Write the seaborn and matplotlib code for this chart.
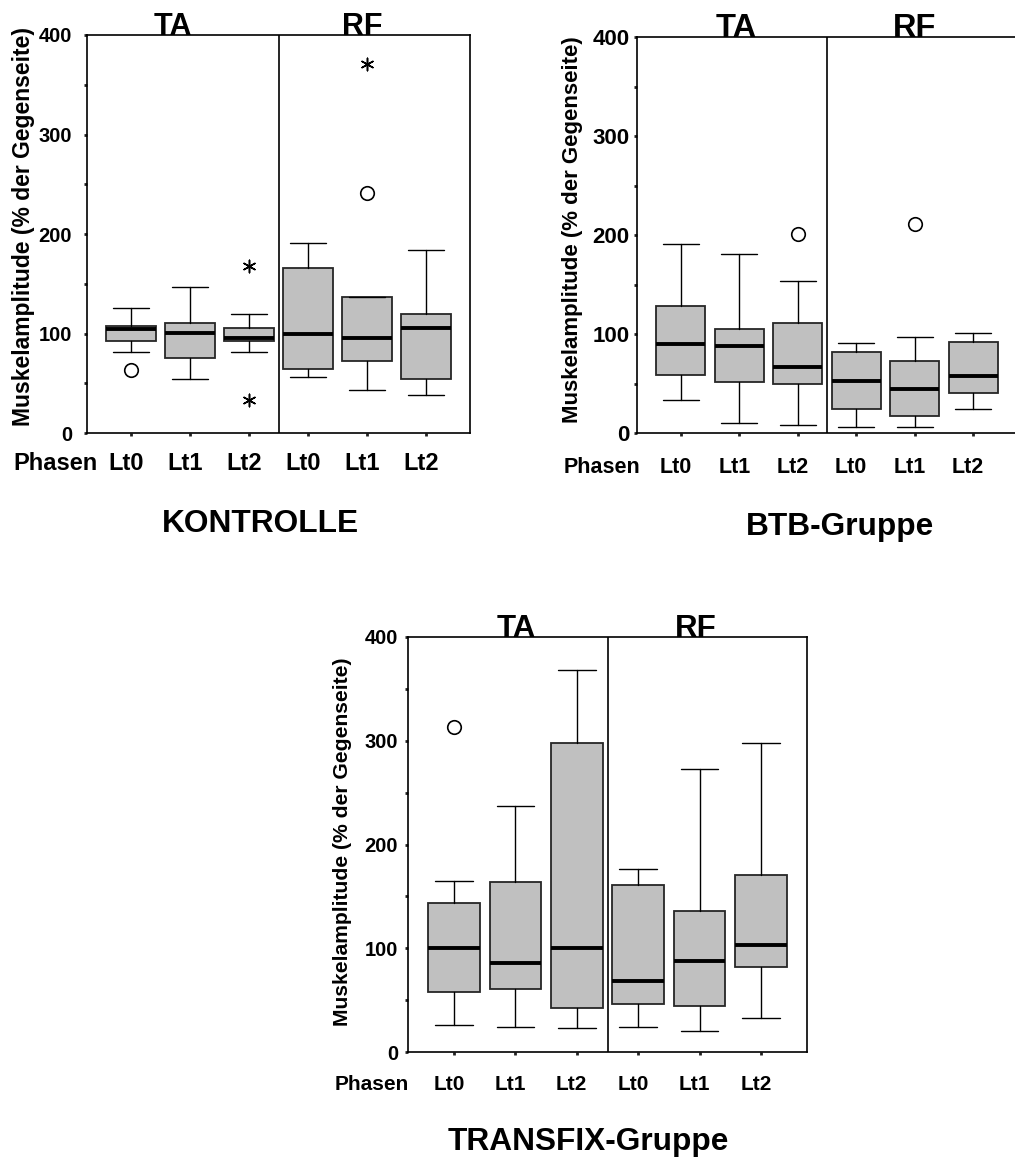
import matplotlib
matplotlib.use("Agg")
import matplotlib.pyplot as plt
import matplotlib.transforms as mtransforms
import seaborn as sns
import pandas as pd

# ---------------- data ----------------
phases = ["Lt0", "Lt1", "Lt2", "Lt0", "Lt1", "Lt2"]
muscles = ["TA", "RF"]
group_names = ["KONTROLLE", "BTB-Gruppe", "TRANSFIX-Gruppe"]
y_label = "Muskelamplitude (% der Gegenseite)"
x_label = "Phasen"
y_ticks = [0, 100, 200, 300, 400]
y_minor = [50, 150, 250, 350]

kontrolle_whislo = [81, 54, 81, 56, 43, 38]
kontrolle_q1 = [92, 75, 92, 64, 72, 54]
kontrolle_med = [105, 101, 95, 100, 95, 106]
kontrolle_q3 = [108, 111, 106, 166, 137, 120]
kontrolle_whishi = [126, 147, 120, 191, 137, 184]
kontrolle_out_pos = [0, 4]
kontrolle_out_val = [63, 241]
kontrolle_ext_pos = [2, 2, 4]
kontrolle_ext_val = [168, 33, 371]

btb_whislo = [33, 10, 8, 6, 6, 24]
btb_q1 = [59, 52, 50, 24, 17, 40]
btb_med = [90, 88, 67, 53, 44, 58]
btb_q3 = [128, 105, 111, 82, 73, 92]
btb_whishi = [191, 181, 154, 91, 97, 101]
btb_out_pos = [2, 4]
btb_out_val = [201, 211]
btb_ext_pos = []
btb_ext_val = []

transfix_whislo = [26, 24, 23, 24, 20, 33]
transfix_q1 = [58, 61, 42, 46, 44, 82]
transfix_med = [100, 86, 100, 68, 88, 103]
transfix_q3 = [144, 164, 298, 161, 136, 171]
transfix_whishi = [165, 237, 368, 176, 273, 298]
transfix_out_pos = [0]
transfix_out_val = [313]
transfix_ext_pos = []
transfix_ext_val = []

# ---------------- style ----------------
sns.set_theme(style="white")
plt.rcParams["font.family"] = ["Liberation Sans", "DejaVu Sans"]
plt.rcParams["font.weight"] = "bold"
plt.rcParams["text.color"] = "black"
plt.rcParams["axes.labelcolor"] = "black"
plt.rcParams["xtick.color"] = "black"
plt.rcParams["ytick.color"] = "black"
plt.rcParams["xtick.labelcolor"] = "black"
plt.rcParams["ytick.labelcolor"] = "black"

W, H = 1015, 1160
fig = plt.figure(figsize=(W / 100, H / 100), dpi=100)


def px_rect(x0, y0, x1, y1):
    return [x0 / W, 1 - y1 / H, (x1 - x0) / W, (y1 - y0) / H]


panels = [
    dict(name=group_names[0], rect=px_rect(87, 35, 470, 433),
         data=(kontrolle_whislo, kontrolle_q1, kontrolle_med, kontrolle_q3, kontrolle_whishi),
         out=(kontrolle_out_pos, kontrolle_out_val), ext=(kontrolle_ext_pos, kontrolle_ext_val),
         xfs=17, yfs=14.5, lfs=16.5, mfs=22, xpad=11.8, ypad=8.6,
         lab_xy=(-0.166, 0.52), ph_x=0.029, mus_x=(0.71, 3.92),
         title_xy=(260, 532)),
    dict(name=group_names[1], rect=px_rect(637, 37, 1017, 433),
         data=(btb_whislo, btb_q1, btb_med, btb_q3, btb_whishi),
         out=(btb_out_pos, btb_out_val), ext=(btb_ext_pos, btb_ext_val),
         xfs=15.5, yfs=16, lfs=16, mfs=23.5, xpad=14.8, ypad=3.0,
         lab_xy=(-0.170, 0.513), ph_x=0.008, mus_x=(0.94, 4.0),
         title_xy=(840, 535)),
    dict(name=group_names[2], rect=px_rect(408, 637, 807, 1052),
         data=(transfix_whislo, transfix_q1, transfix_med, transfix_q3, transfix_whishi),
         out=(transfix_out_pos, transfix_out_val), ext=(transfix_ext_pos, transfix_ext_val),
         xfs=15, yfs=14.5, lfs=15.2, mfs=22.5, xpad=14.0, ypad=5.0,
         lab_xy=(-0.163, 0.506), ph_x=0.0025, mus_x=(1.02, 3.94),
         title_xy=(588, 1150)),
]

positions = list(range(len(phases)))

for p in panels:
    ax = fig.add_axes(p["rect"])
    whislo, q1, med, q3, whishi = p["data"]
    stats = [dict(whislo=a, q1=b, med=c, q3=d, whishi=e, fliers=[], label=lab)
             for a, b, c, d, e, lab in zip(whislo, q1, med, q3, whishi, phases)]
    ax.bxp(stats, positions=positions, widths=0.84, capwidths=0.61,
           showfliers=False, patch_artist=True,
           boxprops=dict(facecolor="#c0c0c0", edgecolor="#262626", linewidth=1.3),
           medianprops=dict(color="black", linewidth=2.8, solid_capstyle="butt"),
           whiskerprops=dict(color="black", linewidth=1.0),
           capprops=dict(color="black", linewidth=1.0))

    opos, oval = p["out"]
    if opos:
        sns.scatterplot(x=opos, y=oval, marker="o", color="white", edgecolor="black",
                        s=95, linewidth=1.2, ax=ax, zorder=5)
    epos, evals = p["ext"]
    if epos:
        sns.scatterplot(x=epos, y=evals, marker=(6, 2, 0), color="black",
                        s=80, linewidth=1.1, ax=ax, zorder=5)

    ax.axvline(2.5, color="black", linewidth=1.2, zorder=1)
    ax.set_xlim(-0.75, 5.75)
    ax.set_ylim(0, 400)

    ax.set_xticks(positions)
    ax.set_xticklabels(phases, fontsize=p["xfs"], fontweight="bold", color="black")
    ax.set_yticks(y_ticks)
    ax.set_yticklabels([str(v) for v in y_ticks], fontsize=p["yfs"], fontweight="bold",
                       color="black")
    ax.set_yticks(y_minor, minor=True)
    ax.tick_params(axis="x", which="both", direction="out", length=2.2, width=2.0,
                   color="#222222", pad=p["xpad"], bottom=True)
    ax.tick_params(axis="y", which="both", direction="out", length=2.2, width=2.0,
                   color="#222222", pad=p["ypad"], left=True)
    shift = mtransforms.ScaledTranslation(-5 / 100, 0, fig.dpi_scale_trans)
    for lab in ax.get_xticklabels():
        lab.set_transform(lab.get_transform() + shift)

    for sp in ax.spines.values():
        sp.set_visible(True)
        sp.set_color("black")
        sp.set_linewidth(1.2)

    ax.set_xlabel("")
    ax.set_ylabel(y_label, fontsize=p["lfs"], fontweight="bold", color="black")
    ax.yaxis.set_label_coords(*p["lab_xy"])
    ax.yaxis.label.set_va("center")

    ax.annotate(x_label, xy=(p["ph_x"], 0), xycoords="axes fraction",
                xytext=(0, -(2.2 + p["xpad"])), textcoords="offset points",
                ha="right", va="top", fontsize=p["xfs"], fontweight="bold", color="black")

    for mx, m in zip(p["mus_x"], muscles):
        ax.text(mx, 400, m, ha="center", va="baseline", fontsize=p["mfs"],
                fontweight="bold", zorder=6, clip_on=False, color="black")

    tx, ty = p["title_xy"]
    fig.text(tx / W, 1 - ty / H, p["name"], ha="center", va="baseline",
             fontsize=22.8, fontweight="bold", color="black")

fig.savefig("out.png", dpi=100)
